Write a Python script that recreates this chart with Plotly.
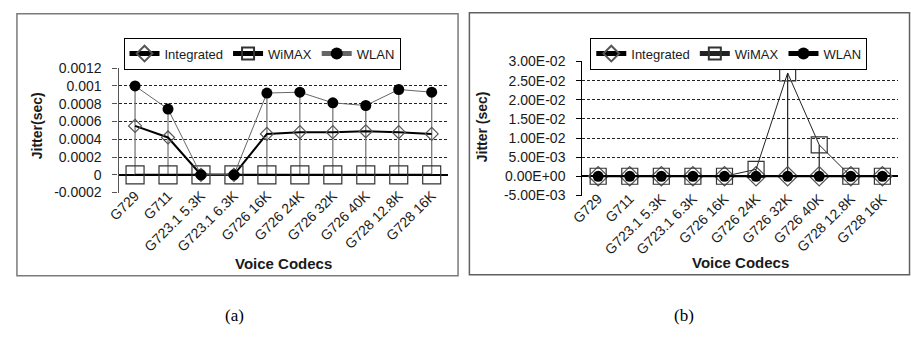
import plotly.graph_objects as go

W, H = 911, 341

categories = ["G729", "G711", "G723.1 5.3K", "G723.1 6.3K", "G726 16K",
              "G726 24K", "G726 32K", "G726 40K", "G728 12.8K", "G728 16K"]

# (a) jitter in seconds
a_integrated = [0.00055, 0.00042, 0.0, 0.0, 0.00046, 0.00048, 0.00048, 0.00049, 0.00048, 0.00046]
a_wimax = [0.0, 0.0, 0.0, 0.0, 0.0, 0.0, 0.0, 0.0, 0.0, 0.0]
a_wlan = [0.0010, 0.00074, 0.0, 0.0, 0.00092, 0.00093, 0.00081, 0.00078, 0.00096, 0.00093]

# (b) jitter in seconds
b_integrated = [0.0, 0.0, 0.0, 0.0, 0.0, 0.0, 0.0, 0.0, 0.0, 0.0]
b_wimax = [0.0, 0.0, 0.0, 0.0, 0.0, 0.0018, 0.027, 0.0082, 0.0, 0.0]
b_wlan = [0.0, 0.0, 0.0, 0.0, 0.0, 0.0, 0.0, 0.0, 0.0, 0.0]

a_ytickvals = [-0.0002, 0.0, 0.0002, 0.0004, 0.0006, 0.0008, 0.001, 0.0012]
a_yticktext = ["-0.0002", "0", "0.0002", "0.0004", "0.0006", "0.0008", "0.001", "0.0012"]
b_ytickvals = [-0.005, 0.0, 0.005, 0.01, 0.015, 0.02, 0.025, 0.03]
b_yticktext = ["-5.00E-03", "0.00E+00", "5.00E-03", "1.00E-02", "1.50E-02",
               "2.00E-02", "2.50E-02", "3.00E-02"]

FONT = "Liberation Sans, Arial, sans-serif"
SERIF = "Liberation Serif, Times New Roman, serif"
TXT = "#1a1a1a"


def px_x(p):
    return p / W


def px_y(p):
    return 1 - p / H


def drop_lines(series_list):
    xs, ys = [], []
    for i, c in enumerate(categories):
        vals = [s[i] for s in series_list]
        xs += [c, c, None]
        ys += [max(vals), min(vals), None]
    return xs, ys


def label(text, x, y, size, family=FONT, angle=0, color=TXT):
    return dict(text=text, x=px_x(x), y=px_y(y), xref="paper", yref="paper",
                xanchor="center", yanchor="middle", textangle=angle, showarrow=False,
                font=dict(family=family, size=size, color=color))


fig = go.Figure()

# ---- panel (a)
dx, dy = drop_lines([a_integrated, a_wimax, a_wlan])
fig.add_trace(go.Scatter(x=dx, y=dy, mode="lines", line=dict(color="#7a7a7a", width=1.3),
                         showlegend=False, hoverinfo="skip", xaxis="x", yaxis="y"))
fig.add_trace(go.Scatter(x=categories, y=a_integrated, name="Integrated", mode="lines+markers",
                         line=dict(color="#000000", width=2),
                         marker=dict(symbol="diamond-open", size=10, color="#555555", line=dict(width=1.2)),
                         xaxis="x", yaxis="y", legend="legend"))
fig.add_trace(go.Scatter(x=categories, y=a_wimax, name="WiMAX", mode="lines+markers",
                         line=dict(color="#000000", width=2),
                         marker=dict(symbol="square-open", size=18, color="#333333", line=dict(width=1.2)),
                         xaxis="x", yaxis="y", legend="legend"))
fig.add_trace(go.Scatter(x=categories, y=a_wlan, name="WLAN", mode="lines+markers",
                         line=dict(color="#666666", width=1),
                         marker=dict(symbol="circle", size=11, color="#000000"),
                         xaxis="x", yaxis="y", legend="legend"))

# ---- panel (b)
dx, dy = drop_lines([b_integrated, b_wimax, b_wlan])
fig.add_trace(go.Scatter(x=dx, y=dy, mode="lines", line=dict(color="#222222", width=1.2),
                         showlegend=False, hoverinfo="skip", xaxis="x2", yaxis="y2"))
fig.add_trace(go.Scatter(x=categories, y=b_integrated, name="Integrated", mode="lines+markers",
                         line=dict(color="#000000", width=1),
                         marker=dict(symbol="diamond-open", size=15, color="#555555", line=dict(width=1.2)),
                         xaxis="x2", yaxis="y2", legend="legend2"))
fig.add_trace(go.Scatter(x=categories, y=b_wimax, name="WiMAX", mode="lines+markers",
                         line=dict(color="#222222", width=1),
                         marker=dict(symbol="square-open", size=16, color="#333333", line=dict(width=1.2)),
                         xaxis="x2", yaxis="y2", legend="legend2"))
fig.add_trace(go.Scatter(x=categories, y=b_wlan, name="WLAN", mode="lines+markers",
                         line=dict(color="#000000", width=2),
                         marker=dict(symbol="circle", size=11, color="#000000"),
                         xaxis="x2", yaxis="y2", legend="legend2"))

xaxis_common = dict(type="category", range=[-0.5, len(categories) - 0.5], showgrid=False,
                    showline=False, zeroline=False, ticks="", tickangle=-45,
                    ticklabelstandoff=-9,
                    tickfont=dict(family=FONT, size=14, color=TXT))
yaxis_common = dict(showgrid=True, gridcolor="#222222", griddash="3px,2px", gridwidth=1,
                    zeroline=True, zerolinecolor="#000000", zerolinewidth=2,
                    showline=True, linewidth=1.3, ticks="outside", ticklen=5, tickwidth=1.2,
                    ticklabelstandoff=8, tickfont=dict(family=FONT, size=14, color=TXT))

fig.update_layout(
    width=W, height=H,
    margin=dict(l=0, r=0, t=0, b=0),
    paper_bgcolor="white", plot_bgcolor="white",
    font=dict(family=FONT, color=TXT),
    xaxis=dict(domain=[px_x(108), px_x(442)], anchor="y", **xaxis_common),
    yaxis=dict(domain=[px_y(193.5), px_y(62.5)], anchor="x", range=[-0.000205, 0.001205],
               tickvals=a_ytickvals, ticktext=a_yticktext, linecolor="#555555",
               tickcolor="#555555", **yaxis_common),
    xaxis2=dict(domain=[px_x(578), px_x(898)], anchor="y2", **xaxis_common),
    yaxis2=dict(domain=[px_y(196.5), px_y(55.5)], anchor="x2", range=[-0.00512, 0.03012],
                tickvals=b_ytickvals, ticktext=b_yticktext, linecolor="#000000",
                tickcolor="#000000", **yaxis_common),
    legend=dict(x=px_x(113), y=px_y(31), xanchor="left", yanchor="top", orientation="h",
                bordercolor="#000000", borderwidth=1, bgcolor="white",
                font=dict(family=FONT, size=13, color=TXT), itemsizing="constant"),
    legend2=dict(x=px_x(586), y=px_y(31), xanchor="left", yanchor="top", orientation="h",
                 bordercolor="#000000", borderwidth=1, bgcolor="white",
                 font=dict(family=FONT, size=13, color=TXT), itemsizing="constant"),
    shapes=[
        dict(type="rect", xref="paper", yref="paper", x0=px_x(5), x1=px_x(452),
             y0=px_y(280), y1=px_y(6), line=dict(color="#7a7a7a", width=1.5)),
        dict(type="rect", xref="paper", yref="paper", x0=px_x(463.5), x1=px_x(909.5),
             y0=px_y(279), y1=px_y(5), line=dict(color="#606060", width=1.5)),
    ],
    annotations=[
        label("<b>Jitter(sec)</b>", 25, 123, 14, angle=-90),
        label("<b>Jitter (sec)</b>", 476, 124, 14, angle=-90),
        label("<b>Voice Codecs</b>", 275, 267, 15),
        label("<b>Voice Codecs</b>", 738, 266, 15),
        label("(a)", 225, 322, 17, family=SERIF, color="#000000"),
        label("(b)", 681, 322, 17, family=SERIF, color="#000000"),
    ],
)

fig.write_html("out.html", config={"displayModeBar": False},
               post_script="document.body.style.margin='0';")
